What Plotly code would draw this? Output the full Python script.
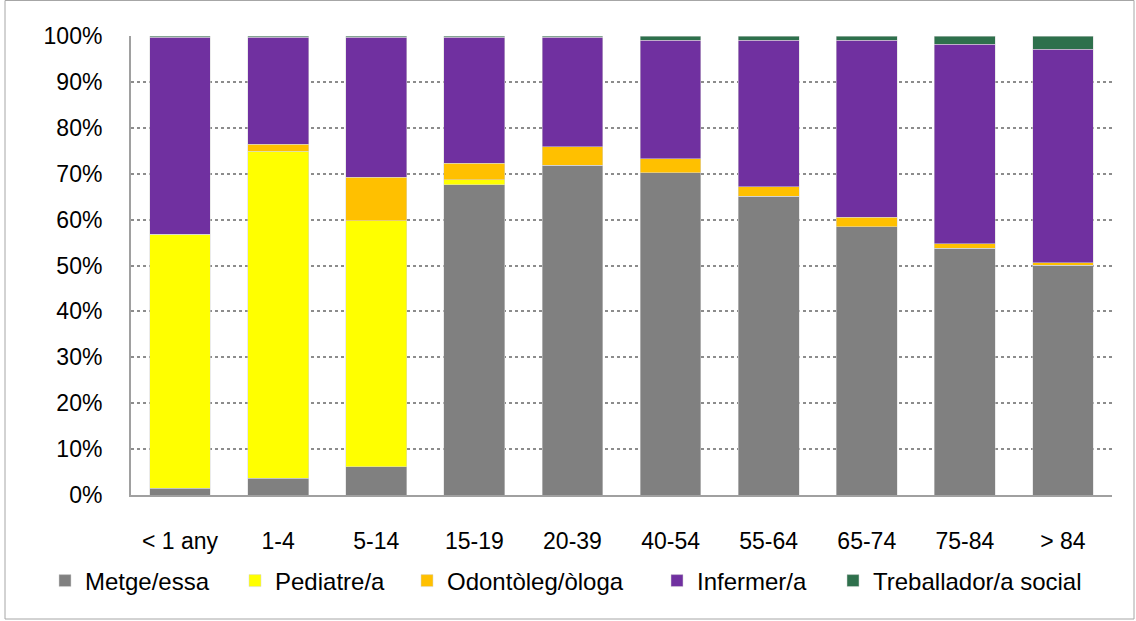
import plotly.graph_objects as go

categories = ["< 1 any", "1-4", "5-14", "15-19", "20-39", "40-54", "55-64", "65-74", "75-84", "> 84"]
metge = [1.5, 3.6, 6.2, 67.6, 71.8, 70.2, 65.1, 58.4, 53.8, 50.1]
pediatre = [55.3, 71.3, 53.6, 1.1, 0.0, 0.0, 0.0, 0.0, 0.0, 0.0]
odontoleg = [0.0, 1.5, 9.4, 3.6, 4.1, 3.1, 2.1, 2.1, 0.9, 0.5]
infermer = [42.9, 23.3, 30.5, 27.4, 23.8, 25.8, 31.9, 38.6, 43.5, 46.5]
treballador = [0.3, 0.3, 0.3, 0.3, 0.3, 0.9, 0.9, 0.9, 1.8, 2.9]

series = [
    ("Metge/essa", metge, "#808080"),
    ("Pediatre/a", pediatre, "#ffff00"),
    ("Odontòleg/òloga", odontoleg, "#ffc000"),
    ("Infermer/a", infermer, "#7030a0"),
    ("Treballador/a social", treballador, "#2e704c"),
]

# pixel geometry of plot area
L, R, T, B = 131, 1112, 36, 495
W, H = R - L, B - T
legend_text_x = [85, 275, 447, 697, 873]
legend_names = ["legend", "legend2", "legend3", "legend4", "legend5"]

fig = go.Figure()
for (name, vals, col), lg in zip(series, legend_names):
    fig.add_trace(go.Bar(
        x=categories, y=vals, name=name, legend=lg,
        marker=dict(color=col, line=dict(color="rgba(215,215,215,0.85)", width=0.6)),
    ))

leg_font = dict(family="Liberation Sans, Arial, sans-serif", size=24, color="black")
legends = {}
for lg, tx in zip(legend_names, legend_text_x):
    legends[lg] = dict(orientation="h", x=(tx - 40 - L) / W, xanchor="left",
                       y=(B - 581) / H, yanchor="middle", font=leg_font,
                       bgcolor="rgba(0,0,0,0)", borderwidth=0)

fig.update_layout(
    barmode="stack",
    bargap=0.38,
    width=1136, height=621,
    margin=dict(l=L, r=1136 - R, t=T, b=621 - B),
    plot_bgcolor="white",
    paper_bgcolor="white",
    font=dict(family="Liberation Sans, Arial, sans-serif", size=23, color="black"),
    showlegend=True,
    xaxis=dict(showline=True, linecolor="#a0a0a0", linewidth=2, ticks="",
               tickfont=dict(size=23), ticklabelstandoff=24, automargin=False),
    yaxis=dict(range=[0, 100], dtick=10, ticksuffix="%", showline=True,
               linecolor="#a0a0a0", linewidth=2, ticks="",
               showgrid=True, gridcolor="#8c8c8c", griddash="dot", gridwidth=1.5,
               tickfont=dict(size=23), ticklabelstandoff=22, automargin=False),
    **legends,
)
fig.add_shape(type="rect", xref="paper", yref="paper",
              x0=(5 - L) / W, x1=(1134 - L) / W, y0=(B - 619) / H, y1=(B - 0.5) / H,
              line=dict(color="#a6a6a6", width=1), layer="below")

fig.write_html("out.html", config={"displayModeBar": False},
               post_script="document.body.style.margin='0';")
